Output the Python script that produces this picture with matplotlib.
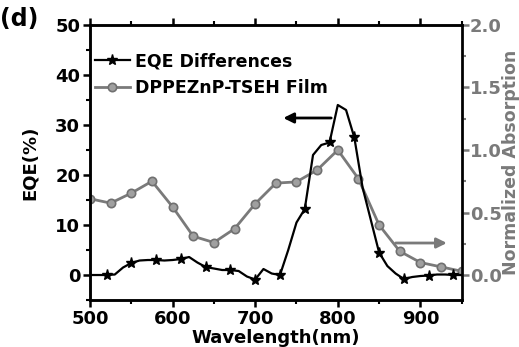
import matplotlib
matplotlib.use("Agg")
import matplotlib.pyplot as plt
from matplotlib.ticker import MultipleLocator

plt.rcParams['font.family'] = ['DejaVu Sans']
plt.rcParams['font.weight'] = 'bold'

# EQE differences (left axis), 10 nm steps
eqe_wl = [500, 510, 520, 530, 540, 550, 560, 570, 580, 590, 600, 610, 620, 630,
          640, 650, 660, 670, 680, 690, 700, 710, 720, 730, 740, 750, 760, 770,
          780, 790, 800, 810, 820, 830, 840, 850, 860, 870, 880, 890, 900, 910,
          920, 930, 940, 950]
eqe_val = [0.0, 0.0, 0.0, 0.1, 1.5, 2.4, 2.9, 3.0, 3.0, 2.9, 3.0, 3.2, 3.6, 2.5,
           1.6, 1.3, 1.0, 1.0, 0.8, -0.3, -0.9, 1.2, 0.3, 0.0, 5.0, 10.5, 13.2, 24.0,
           26.0, 26.5, 34.0, 33.0, 27.5, 17.5, 11.0, 4.5, 1.8, 0.3, -0.8, -0.4, -0.2, -0.1,
           0.1, 0.1, 0.0, 0.0]

# Normalized absorption of DPPEZnP-TSEH film (right axis)
abs_wl = [500, 525, 550, 575, 600, 625, 650, 675, 700, 725, 750, 775, 800,
          825, 850, 875, 900, 925, 950]
abs_val = [0.61, 0.575, 0.655, 0.75, 0.545, 0.31, 0.26, 0.37, 0.57, 0.735, 0.745,
           0.84, 1.0, 0.77, 0.40, 0.19, 0.10, 0.065, 0.03]

fig = plt.figure(figsize=(5.19, 3.47), dpi=100)
ax = fig.add_axes([0.1734, 0.1354, 0.7162, 0.7926])
ax2 = ax.twinx()

gray = '#7a7a7a'
l2, = ax2.plot(abs_wl, abs_val, color=gray, lw=2, marker='o', ms=6,
               mfc='#a0a0a0', mec='#707070', mew=1.2, label='DPPEZnP-TSEH Film')
l1, = ax.plot(eqe_wl, eqe_val, color='black', lw=1.6, marker='*', ms=8,
              markevery=(2, 3), label='EQE Differences')
ax.set_zorder(ax2.get_zorder() + 1)
ax.patch.set_visible(False)

ax.set_xlim(500, 950)
ax.set_ylim(-5, 50)
ax2.set_ylim(-0.2, 2.0)

ax.xaxis.set_major_locator(MultipleLocator(100))
ax.xaxis.set_minor_locator(MultipleLocator(50))
ax.yaxis.set_major_locator(MultipleLocator(10))
ax.yaxis.set_minor_locator(MultipleLocator(5))
ax2.yaxis.set_major_locator(MultipleLocator(0.5))
ax2.yaxis.set_minor_locator(MultipleLocator(0.25))

for a in (ax, ax2):
    for s in a.spines.values():
        s.set_linewidth(1.8)
ax2.spines['right'].set_color('#505050')

ax.tick_params(axis='both', which='major', direction='out', length=5, width=1.8,
               labelsize=13, pad=2)
ax.tick_params(axis='both', which='minor', direction='out', length=3, width=1.5)
ax.tick_params(axis='x', which='both', top=True, labeltop=False)
ax2.tick_params(axis='y', which='major', direction='out', length=5, width=1.8,
                labelsize=13, colors=gray, pad=1)
ax2.tick_params(axis='y', which='minor', direction='out', length=3, width=1.5, colors=gray)
ax2.set_yticklabels(['{:.1f}'.format(v) for v in ax2.get_yticks()])

ax.set_xlabel('Wavelength(nm)', fontsize=13, fontweight='bold', labelpad=1)
ax.set_ylabel('EQE(%)', fontsize=13, fontweight='bold', labelpad=12)
ax2.set_ylabel('Normalized Absorption', fontsize=12.5, fontweight='bold', color=gray,
               labelpad=0)

ax.annotate('', xy=(734, 31.4), xytext=(792, 31.4),
            arrowprops=dict(arrowstyle='-|>', color='black', lw=2, mutation_scale=15,
                            shrinkA=0, shrinkB=0))
ax.annotate('', xy=(932, 6.4), xytext=(870, 6.4),
            arrowprops=dict(arrowstyle='-|>', color=gray, lw=2, mutation_scale=15,
                            shrinkA=0, shrinkB=0))

ax.legend(handles=[l1, l2], loc='upper left', bbox_to_anchor=(-0.005, 0.925),
          frameon=False, handlelength=2.0, handletextpad=0.3,
          borderaxespad=0.0, labelspacing=0.5,
          prop={'weight': 'bold', 'size': 12.5})

fig.text(0.0, 0.98, '(d)', fontsize=17, fontweight='bold', va='top', ha='left')

fig.savefig('out.png', dpi=100)
